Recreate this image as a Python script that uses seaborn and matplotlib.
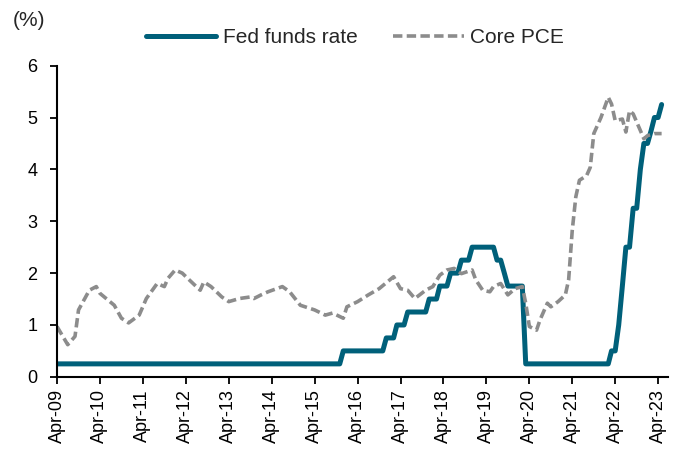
import pandas as pd
import seaborn as sns
import matplotlib.pyplot as plt
import matplotlib.dates as mdates

# Fed funds rate (upper bound), vertices of the line
fed_dates = ['2009-04', '2015-11', '2015-12', '2016-11', '2016-12', '2017-02', '2017-03',
             '2017-05', '2017-06', '2017-11', '2017-12', '2018-02', '2018-03', '2018-05',
             '2018-06', '2018-08', '2018-09', '2018-11', '2018-12', '2019-06', '2019-07',
             '2019-08', '2019-09', '2019-10', '2020-02', '2020-03', '2022-02', '2022-03',
             '2022-04', '2022-05', '2022-06', '2022-07', '2022-08', '2022-09', '2022-10',
             '2022-11', '2022-12', '2023-01', '2023-02', '2023-03', '2023-04', '2023-05']
fed_values = [0.25, 0.25, 0.5, 0.5, 0.75, 0.75, 1.0,
              1.0, 1.25, 1.25, 1.5, 1.5, 1.75, 1.75,
              2.0, 2.0, 2.25, 2.25, 2.5, 2.5, 2.25,
              2.25, 2.0, 1.75, 1.75, 0.25, 0.25, 0.5,
              0.5, 1.0, 1.75, 2.5, 2.5, 3.25, 3.25,
              4.0, 4.5, 4.5, 4.75, 5.0, 5.0, 5.25]

# Core PCE inflation (% y/y)
pce_dates = ['2009-04', '2009-07', '2009-09', '2009-10', '2010-01', '2010-03', '2010-04',
             '2010-08', '2010-10', '2010-12', '2011-03', '2011-05', '2011-08', '2011-10',
             '2011-11', '2012-01', '2012-03', '2012-06', '2012-08', '2012-09', '2012-11',
             '2013-02', '2013-04', '2013-07', '2013-10', '2013-11', '2014-01', '2014-03',
             '2014-07', '2014-09', '2014-12', '2015-04', '2015-07', '2015-09', '2015-12',
             '2016-01', '2016-04', '2016-07', '2016-10', '2017-02', '2017-04', '2017-06',
             '2017-08', '2017-11', '2018-01', '2018-03', '2018-05', '2018-07', '2018-09',
             '2018-12', '2019-01', '2019-03', '2019-05', '2019-06', '2019-08', '2019-10',
             '2019-12', '2020-02', '2020-03', '2020-04', '2020-06', '2020-07', '2020-09',
             '2020-10', '2020-12', '2021-02', '2021-03', '2021-04', '2021-05', '2021-06',
             '2021-08', '2021-09', '2021-10', '2021-12', '2022-02', '2022-03', '2022-04',
             '2022-06', '2022-07', '2022-08', '2022-09', '2022-11', '2022-12', '2023-01',
             '2023-03', '2023-05']
pce_values = [0.97, 0.62, 0.78, 1.29, 1.67, 1.74, 1.61,
              1.38, 1.13, 1.04, 1.19, 1.51, 1.80, 1.74,
              1.90, 2.06, 2.00, 1.80, 1.67, 1.83, 1.74,
              1.54, 1.45, 1.51, 1.54, 1.51, 1.58, 1.64,
              1.74, 1.64, 1.38, 1.29, 1.19, 1.23, 1.13,
              1.35, 1.45, 1.58, 1.70, 1.93, 1.70, 1.67,
              1.51, 1.67, 1.74, 1.96, 2.06, 2.09, 1.99,
              2.06, 1.87, 1.67, 1.64, 1.74, 1.80, 1.58,
              1.70, 1.74, 1.42, 0.97, 0.90, 1.10, 1.42,
              1.35, 1.45, 1.58, 1.87, 2.83, 3.47, 3.79,
              3.88, 4.04, 4.69, 5.00, 5.39, 5.26, 4.94,
              4.97, 4.72, 5.13, 5.07, 4.75, 4.59, 4.65,
              4.69, 4.69]

tick_dates = pd.date_range('2009-04-01', '2023-04-01', freq='12MS')

fed = pd.DataFrame({'date': pd.to_datetime(fed_dates), 'value': fed_values})
pce = pd.DataFrame({'date': pd.to_datetime(pce_dates), 'value': pce_values})

sns.set_style('ticks')
plt.rcParams['font.family'] = ['Liberation Sans', 'DejaVu Sans']

fig = plt.figure(figsize=(6.82, 4.59), dpi=100)
ax = fig.add_axes([0.0836, 0.179, 0.896, 0.678])

sns.lineplot(data=fed, x='date', y='value', ax=ax, color='#00607A', linewidth=3.6,
             label='Fed funds rate', solid_capstyle='round')
sns.lineplot(data=pce, x='date', y='value', ax=ax, color='#8C8C8C', linewidth=2.6,
             label='Core PCE', linestyle=(0, (2.6, 1.2)))

ax.set_xlim(pd.Timestamp('2009-04-01'), pd.Timestamp('2023-06-25'))
ax.set_ylim(0, 6)
ax.set_yticks(range(0, 7))
ax.set_xticks(tick_dates)
ax.xaxis.set_major_formatter(mdates.DateFormatter('%b-%y'))
plt.setp(ax.get_xticklabels(), rotation=90)
ax.tick_params(axis='both', labelsize=13, length=5, width=1.3, colors='black')
ax.tick_params(axis='y', pad=9)
ax.tick_params(axis='x', pad=4)
ax.set_xlabel('')
ax.set_ylabel('')
for s in ['left', 'bottom']:
    ax.spines[s].set_linewidth(1.5)
    ax.spines[s].set_color('black')
sns.despine(ax=ax)

fig.text(0.019, 0.956, '(%)', fontsize=15, va='center')
ax.legend(loc='center', bbox_to_anchor=(0.487, 1.09), ncol=2, frameon=False,
          fontsize=15, handlelength=3.4, columnspacing=1.7, handletextpad=0.3)

fig.savefig('out.png', dpi=100)
